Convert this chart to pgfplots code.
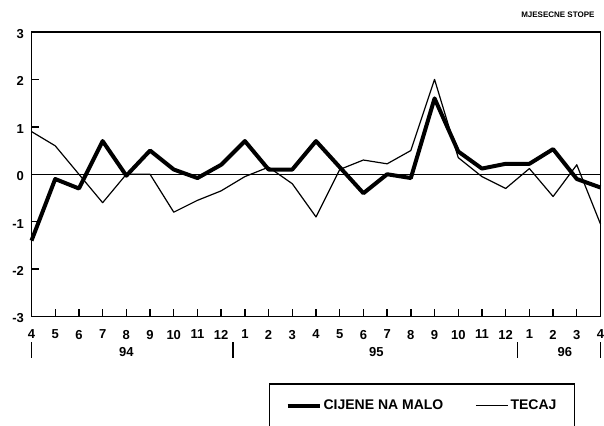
\documentclass[border=0pt]{standalone}
\usepackage{fontspec}
\setmainfont{Liberation Sans}
\usepackage{pgfplots}
\pgfplotsset{compat=1.18}
\begin{document}
\begin{tikzpicture}
\useasboundingbox (0pt,0pt) rectangle (604pt,425pt);
\begin{axis}[
  at={(31.5pt,108.5pt)}, anchor=south west,
  scale only axis, width=569pt, height=284.5pt,
  xmin=0, xmax=24, ymin=-3, ymax=3,
  clip=false,
  xtick={0,...,24},
  xticklabels={4,5,6,7,8,9,10,11,12,1,2,3,4,5,6,7,8,9,10,11,12,1,2,3,4},
  ytick={-3,-2,-1,0,1,2,3},
  yticklabels={-3,-2,-1,0,1,2,3},
  axis line style={black, line width=1.1pt},
  ticklabel style={font=\bfseries\fontsize{13}{13}\selectfont, text=black},
  xticklabel style={yshift=-10pt},
  yticklabel style={xshift=-4pt, yshift=-2pt},
  legend style={at={(axis description cs:0.4175,-0.2355)}, anchor=north west,
    draw=black, line width=1.1pt, inner xsep=16pt, inner ysep=14pt,
    font=\bfseries\fontsize{14}{14}\selectfont, legend columns=2,
    /tikz/every even column/.append style={column sep=30pt}},
  legend image code/.code={\draw[#1] (0pt,0pt) -- (32pt,0pt);},
  tick align=inside, xtick pos=left, ytick pos=left,
  major tick length=6pt,
  every tick/.append style={draw=black, line width=1.3pt},
]
\addplot[black, line width=0.9pt, forget plot] coordinates {(0,0) (24,0)};
\addplot[forget plot, only marks, mark=|, mark size=3.5pt, mark options={black, line width=1.4pt}] coordinates {
(1,-2.926) (2,-2.926) (3,-2.926) (4,-2.926) (5,-2.926) (6,-2.926) (7,-2.926) (8,-2.926)
(9,-2.926) (10,-2.926) (11,-2.926) (12,-2.926) (13,-2.926) (14,-2.926) (15,-2.926) (16,-2.926)
(17,-2.926) (18,-2.926) (19,-2.926) (20,-2.926) (21,-2.926) (22,-2.926) (23,-2.926)};
\addplot[forget plot, only marks, mark=-, mark size=3.5pt, mark options={black, line width=1.4pt}] coordinates {
(0.148,-2) (0.148,-1) (0.148,0) (0.148,1) (0.148,2)};
\addplot[black, line width=4pt, line join=round] coordinates {
(0,-1.4) (1,-0.1) (2,-0.3) (3,0.7) (4,-0.03) (5,0.5) (6,0.1) (7,-0.08) (8,0.2)
(9,0.7) (10,0.1) (11,0.1) (12,0.7) (13,0.15) (14,-0.4) (15,0.0) (16,-0.08)
(17,1.6) (18,0.48) (19,0.12) (20,0.22) (21,0.22) (22,0.53) (23,-0.1) (24,-0.28)};
\addlegendentry{CIJENE NA MALO}
\addplot[black, line width=1.2pt, line join=round] coordinates {
(0,0.9) (1,0.6) (2,0.0) (3,-0.6) (4,0.0) (5,0.0) (6,-0.8) (7,-0.55) (8,-0.35)
(9,-0.05) (10,0.15) (11,-0.2) (12,-0.9) (13,0.1) (14,0.3) (15,0.22) (16,0.5)
(17,2.0) (18,0.35) (19,-0.05) (20,-0.3) (21,0.12) (22,-0.47) (23,0.2) (24,-1.05)};
\addlegendentry{TECAJ}
\draw[black, line width=1.1pt] ([yshift=-26pt]axis cs:0,-3) -- ([yshift=-41pt]axis cs:0,-3);
\draw[black, line width=1.1pt] ([yshift=-26pt]axis cs:8.5,-3) -- ([yshift=-41pt]axis cs:8.5,-3);
\draw[black, line width=1.1pt] ([yshift=-26pt]axis cs:20.5,-3) -- ([yshift=-41pt]axis cs:20.5,-3);
\draw[black, line width=1.1pt] ([yshift=-26pt]axis cs:24,-3) -- ([yshift=-41pt]axis cs:24,-3);
\node[font=\bfseries\fontsize{13}{13}\selectfont] at ([yshift=-35.5pt]axis cs:4,-3) {94};
\node[font=\bfseries\fontsize{13}{13}\selectfont] at ([yshift=-35.5pt]axis cs:14.55,-3) {95};
\node[font=\bfseries\fontsize{13}{13}\selectfont] at ([yshift=-35.5pt]axis cs:22.5,-3) {96};
\end{axis}
\node[font=\bfseries\fontsize{8}{8}\selectfont, anchor=east] at (598pt,410pt) {MJESECNE STOPE};
\end{tikzpicture}
\end{document}
